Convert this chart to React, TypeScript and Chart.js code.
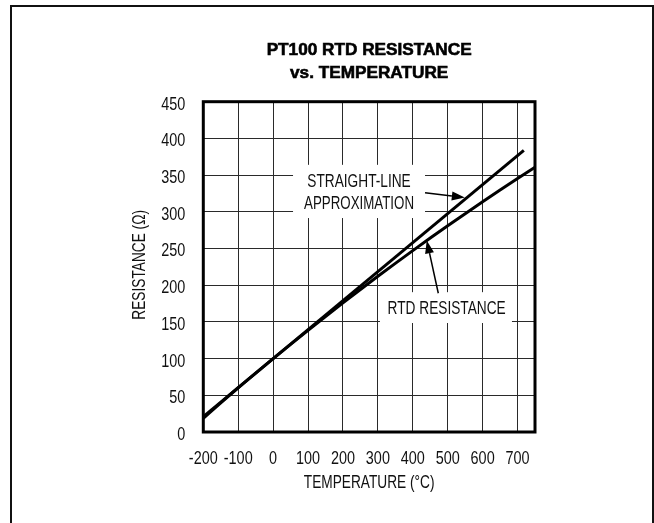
import React, { useEffect, useRef } from "react";
import { Chart, registerables } from "chart.js";

Chart.register(...registerables);

// ---- data ----
const temperatureC = [-200, -150, -100, -50, 0, 50, 100, 150, 200, 250, 300, 350, 400, 450, 500, 550, 600, 650, 700, 750];
const rtdOhms = [18.5, 39.7, 60.3, 80.3, 100, 119.4, 138.5, 157.3, 175.9, 194.1, 212.1, 229.7, 247.1, 264.2, 280.9, 297.4, 313.7, 329.6, 345.3, 360.6];
const approxTempC = [-200, 718];
const approxOhms = [21, 383.6];
const xTickValues = [-200, -100, 0, 100, 200, 300, 400, 500, 600, 700];
const yTickValues = [0, 50, 100, 150, 200, 250, 300, 350, 400, 450];
const titleLines = ["PT100 RTD RESISTANCE", "vs. TEMPERATURE"];
const xAxisTitle = "TEMPERATURE (°C)";
const yAxisTitle = "RESISTANCE (Ω)";
const approxLabel = ["STRAIGHT-LINE", "APPROXIMATION"];
const rtdLabel = "RTD RESISTANCE";

const FONT = "'Liberation Sans', Arial, Helvetica, sans-serif";
const TXT = `18.5px ${FONT}`;
const CAP = 13.3;

function narrowText(ctx: CanvasRenderingContext2D, text: string, x: number, y: number, align: CanvasTextAlign, k: number, rot = 0) {
  ctx.save();
  ctx.translate(x, y);
  if (rot) ctx.rotate(rot);
  ctx.scale(k, 1);
  ctx.textAlign = align;
  ctx.textBaseline = "alphabetic";
  ctx.font = TXT;
  ctx.fillStyle = "#111";
  ctx.fillText(text, 0, 0);
  ctx.restore();
}

function arrow(ctx: CanvasRenderingContext2D, x1: number, y1: number, x2: number, y2: number) {
  const ang = Math.atan2(y2 - y1, x2 - x1);
  const len = 13;
  const hw = 4.5;
  const bx = x2 - Math.cos(ang) * len;
  const by = y2 - Math.sin(ang) * len;
  ctx.beginPath();
  ctx.moveTo(x1, y1);
  ctx.lineTo(bx, by);
  ctx.strokeStyle = "#000";
  ctx.lineWidth = 1.5;
  ctx.stroke();
  ctx.beginPath();
  ctx.moveTo(x2, y2);
  ctx.lineTo(bx - Math.sin(ang) * hw, by + Math.cos(ang) * hw);
  ctx.lineTo(bx + Math.sin(ang) * hw, by - Math.cos(ang) * hw);
  ctx.closePath();
  ctx.fillStyle = "#000";
  ctx.fill();
}

const decorPlugin = {
  id: "decor",
  beforeDraw(chart: any) {
    const ctx = chart.ctx as CanvasRenderingContext2D;
    ctx.save();
    ctx.fillStyle = "#fff";
    ctx.fillRect(0, 0, chart.width, chart.height);
    ctx.strokeStyle = "#111";
    ctx.lineWidth = 2;
    ctx.strokeRect(11, 6, 642, 600);
    // title
    const ca = chart.chartArea;
    const cx = (ca.left + ca.right) / 2;
    ctx.fillStyle = "#000";
    ctx.strokeStyle = "#000";
    ctx.lineWidth = 0.6;
    ctx.font = `bold 17.2px ${FONT}`;
    ctx.textAlign = "center";
    ctx.textBaseline = "alphabetic";
    ctx.fillText(titleLines[0], cx, 55);
    ctx.strokeText(titleLines[0], cx, 55);
    ctx.fillText(titleLines[1], cx, 78);
    ctx.strokeText(titleLines[1], cx, 78);
    ctx.restore();
  },
  beforeDatasetsDraw(chart: any) {
    const ctx = chart.ctx as CanvasRenderingContext2D;
    const xs = chart.scales.x;
    const ys = chart.scales.y;
    const box = (t1: number, r1: number, t2: number, r2: number) => {
      const x1 = xs.getPixelForValue(t1), x2 = xs.getPixelForValue(t2);
      const y1 = ys.getPixelForValue(r1), y2 = ys.getPixelForValue(r2);
      ctx.fillRect(x1, y1, x2 - x1, y2 - y1);
    };
    ctx.save();
    ctx.fillStyle = "#fff";
    box(57, 364, 435, 291.5);
    box(306, 190.5, 684, 148.5);
    ctx.restore();
  },
  afterDatasetsDraw(chart: any) {
    const ctx = chart.ctx as CanvasRenderingContext2D;
    const xs = chart.scales.x;
    const ys = chart.scales.y;
    const ca = chart.chartArea;
    ctx.save();
    ctx.strokeStyle = "#000";
    ctx.lineWidth = 3;
    ctx.strokeRect(ca.left, ca.top, ca.right - ca.left, ca.bottom - ca.top);

    // tick labels from the library's scales
    xs.ticks.forEach((t: any) => {
      narrowText(ctx, String(t.value), xs.getPixelForValue(t.value), ca.bottom + 32, "center", 0.78);
    });
    ys.ticks.forEach((t: any) => {
      narrowText(ctx, String(t.value), ca.left - 18, ys.getPixelForValue(t.value) + CAP / 2 + 1.3, "right", 0.78);
    });
    // axis titles
    narrowText(ctx, xAxisTitle, (ca.left + ca.right) / 2, ca.bottom + 56, "center", 0.74);
    narrowText(ctx, yAxisTitle, 138 + CAP / 2, (ca.top + ca.bottom) / 2 - 2, "center", 0.74, -Math.PI / 2);

    // annotations
    narrowText(ctx, approxLabel[0], xs.getPixelForValue(246), ys.getPixelForValue(343) + CAP / 2, "center", 0.74);
    narrowText(ctx, approxLabel[1], xs.getPixelForValue(246), ys.getPixelForValue(313) + CAP / 2, "center", 0.72);
    narrowText(ctx, rtdLabel, xs.getPixelForValue(497), ys.getPixelForValue(170.5) + CAP / 2, "center", 0.74);
    arrow(ctx, xs.getPixelForValue(435), ys.getPixelForValue(326), xs.getPixelForValue(549), ys.getPixelForValue(319.5));
    arrow(ctx, xs.getPixelForValue(473), ys.getPixelForValue(189), xs.getPixelForValue(440), ys.getPixelForValue(261));
    ctx.restore();
  },
};

export default function App() {
  const ref = useRef<HTMLCanvasElement | null>(null);
  useEffect(() => {
    if (!ref.current) return;
    const chart = new Chart(ref.current, {
      type: "line",
      data: {
        datasets: [
          {
            label: "RTD RESISTANCE",
            data: temperatureC.map((t, i) => ({ x: t, y: rtdOhms[i] })),
            borderColor: "#000",
            borderWidth: 3,
            pointRadius: 0,
            cubicInterpolationMode: "monotone",
            fill: false,
          },
          {
            label: "STRAIGHT-LINE APPROXIMATION",
            data: approxTempC.map((t, i) => ({ x: t, y: approxOhms[i] })),
            borderColor: "#000",
            borderWidth: 3,
            pointRadius: 0,
            fill: false,
          },
        ],
      },
      options: {
        responsive: false,
        animation: false,
        events: [],
        layout: { padding: { left: 127, right: 119, top: 101.7, bottom: 29.7 } },
        plugins: { legend: { display: false }, title: { display: false }, tooltip: { enabled: false } },
        scales: {
          x: {
            type: "linear",
            min: -200,
            max: 750,
            afterBuildTicks: (s: any) => { s.ticks = xTickValues.map((v) => ({ value: v })); },
            afterFit: (s: any) => { s.height = 61.3; s.paddingLeft = 0; s.paddingRight = 0; },
            grid: { color: "#2a2a2a", lineWidth: 1, drawTicks: false },
            border: { display: false },
            ticks: { display: false },
            title: { display: false, text: xAxisTitle },
          },
          y: {
            type: "linear",
            min: 0,
            max: 450,
            afterBuildTicks: (s: any) => { s.ticks = yTickValues.map((v) => ({ value: v })); },
            afterFit: (s: any) => { s.width = 76.3; s.paddingTop = 0; s.paddingBottom = 0; },
            grid: { color: "#2a2a2a", lineWidth: 1, drawTicks: false },
            border: { display: false },
            ticks: { display: false },
            title: { display: false, text: yAxisTitle },
          },
        },
      },
      plugins: [decorPlugin],
    } as any);
    return () => chart.destroy();
  }, []);
  return (
    <div style={{ position: "absolute", left: 0, top: 0, width: 654, height: 523 }}>
      <canvas ref={ref} width={654} height={523} style={{ display: "block" }} />
    </div>
  );
}
